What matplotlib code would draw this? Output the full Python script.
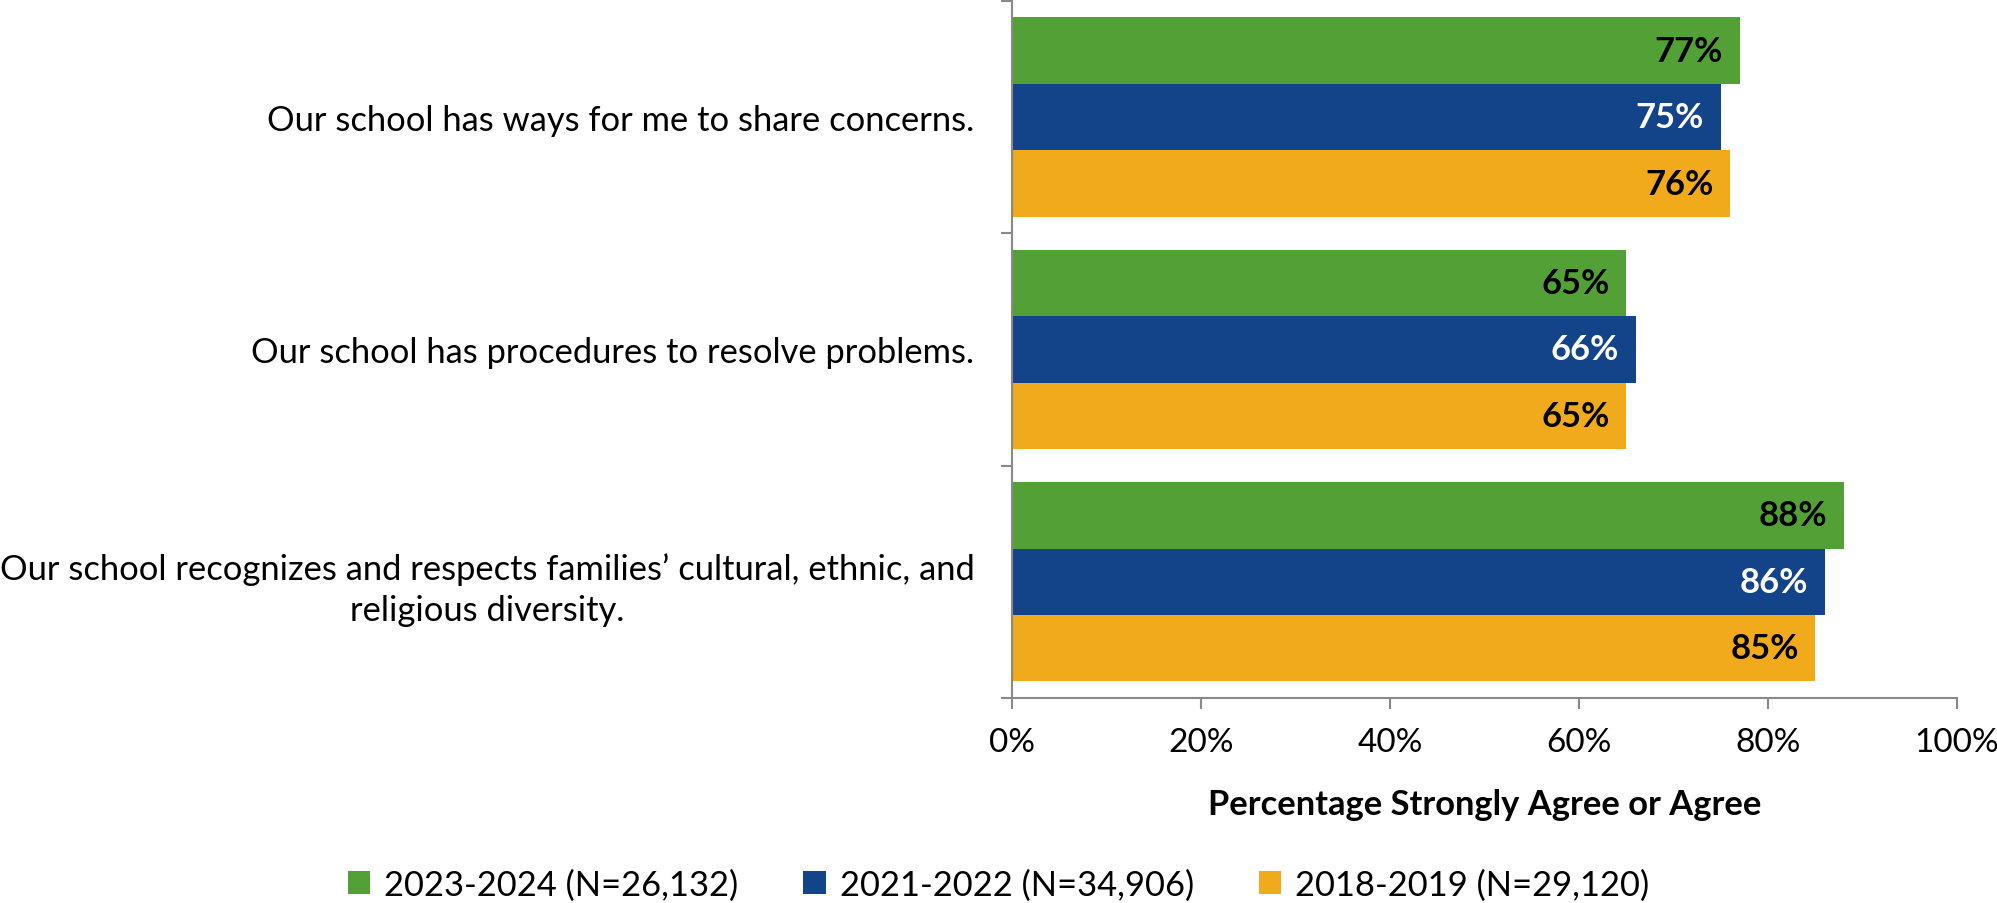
import numpy as np
import matplotlib
matplotlib.use('Agg')
import matplotlib.pyplot as plt
from matplotlib.patches import Patch

# Dados
categorias = [
    'Our school has ways for me to share concerns.',
    'Our school has procedures to resolve problems.',
    'Our school recognizes and respects families\u2019 cultural, ethnic, and\nreligious diversity.',
]
series = ['2023-2024 (N=26,132)', '2021-2022 (N=34,906)', '2018-2019 (N=29,120)']
v_2024 = [77, 65, 88]
v_2022 = [75, 66, 86]
v_2019 = [76, 65, 85]

cores = ['#53A136', '#134389', '#F0AA1B']
cores_texto = ['black', 'white', 'black']

plt.rcParams['font.family'] = ['Lato', 'DejaVu Sans']
FS = 24.8

fig = plt.figure(figsize=(19.97, 9.04), dpi=100)
ax = fig.add_axes([0.5068, 0.2268, 0.4732, 0.771])

y = np.arange(len(categorias))
h = 0.286
offsets = [-h, 0, h]
valores = [v_2024, v_2022, v_2019]

for vals, off, cor, ct in zip(valores, offsets, cores, cores_texto):
    bars = ax.barh(y + off, vals, height=h, color=cor, edgecolor='none')
    for b, v in zip(bars, vals):
        ax.annotate(f'{v}%', xy=(b.get_width(), b.get_y() + b.get_height() / 2),
                    xytext=(-12, 0), textcoords='offset points',
                    ha='right', va='center', fontsize=FS, fontweight='bold', color=ct)

ax.set_xlim(0, 100)
ax.set_ylim(2.5, -0.5)
ax.set_xticks(np.arange(0, 101, 20))
ax.set_xticklabels([f'{t}%' for t in range(0, 101, 20)], fontsize=24)
ax.set_xlabel('Percentage Strongly Agree or Agree', fontsize=FS, fontweight='bold', labelpad=22)

ax.set_yticks(y)
ax.set_yticklabels(categorias, fontsize=FS)
for lbl in ax.get_yticklabels():
    lbl.set_multialignment('center')
    lbl.set_linespacing(1.33)
ax.set_yticks([-0.5, 0.5, 1.5, 2.5], minor=True)
ax.tick_params(axis='y', which='major', length=0, pad=27)
ax.tick_params(axis='y', which='minor', length=8, width=1.5, color='#898989', direction='out')
ax.tick_params(axis='x', which='major', length=8, width=1.5, color='#898989', direction='out', pad=13)

for s in ['top', 'right']:
    ax.spines[s].set_visible(False)
for s in ['left', 'bottom']:
    ax.spines[s].set_color('#898989')
    ax.spines[s].set_linewidth(1.5)

handles = [Patch(facecolor=c, edgecolor='none') for c in cores]
fig.legend(handles, series, loc='center', bbox_to_anchor=(0.5, 0.02), ncol=3,
           frameon=False, fontsize=FS, handlelength=0.65, handleheight=0.65,
           handletextpad=0.4, columnspacing=1.9)

plt.savefig('out.png', dpi=100)
plt.close()
